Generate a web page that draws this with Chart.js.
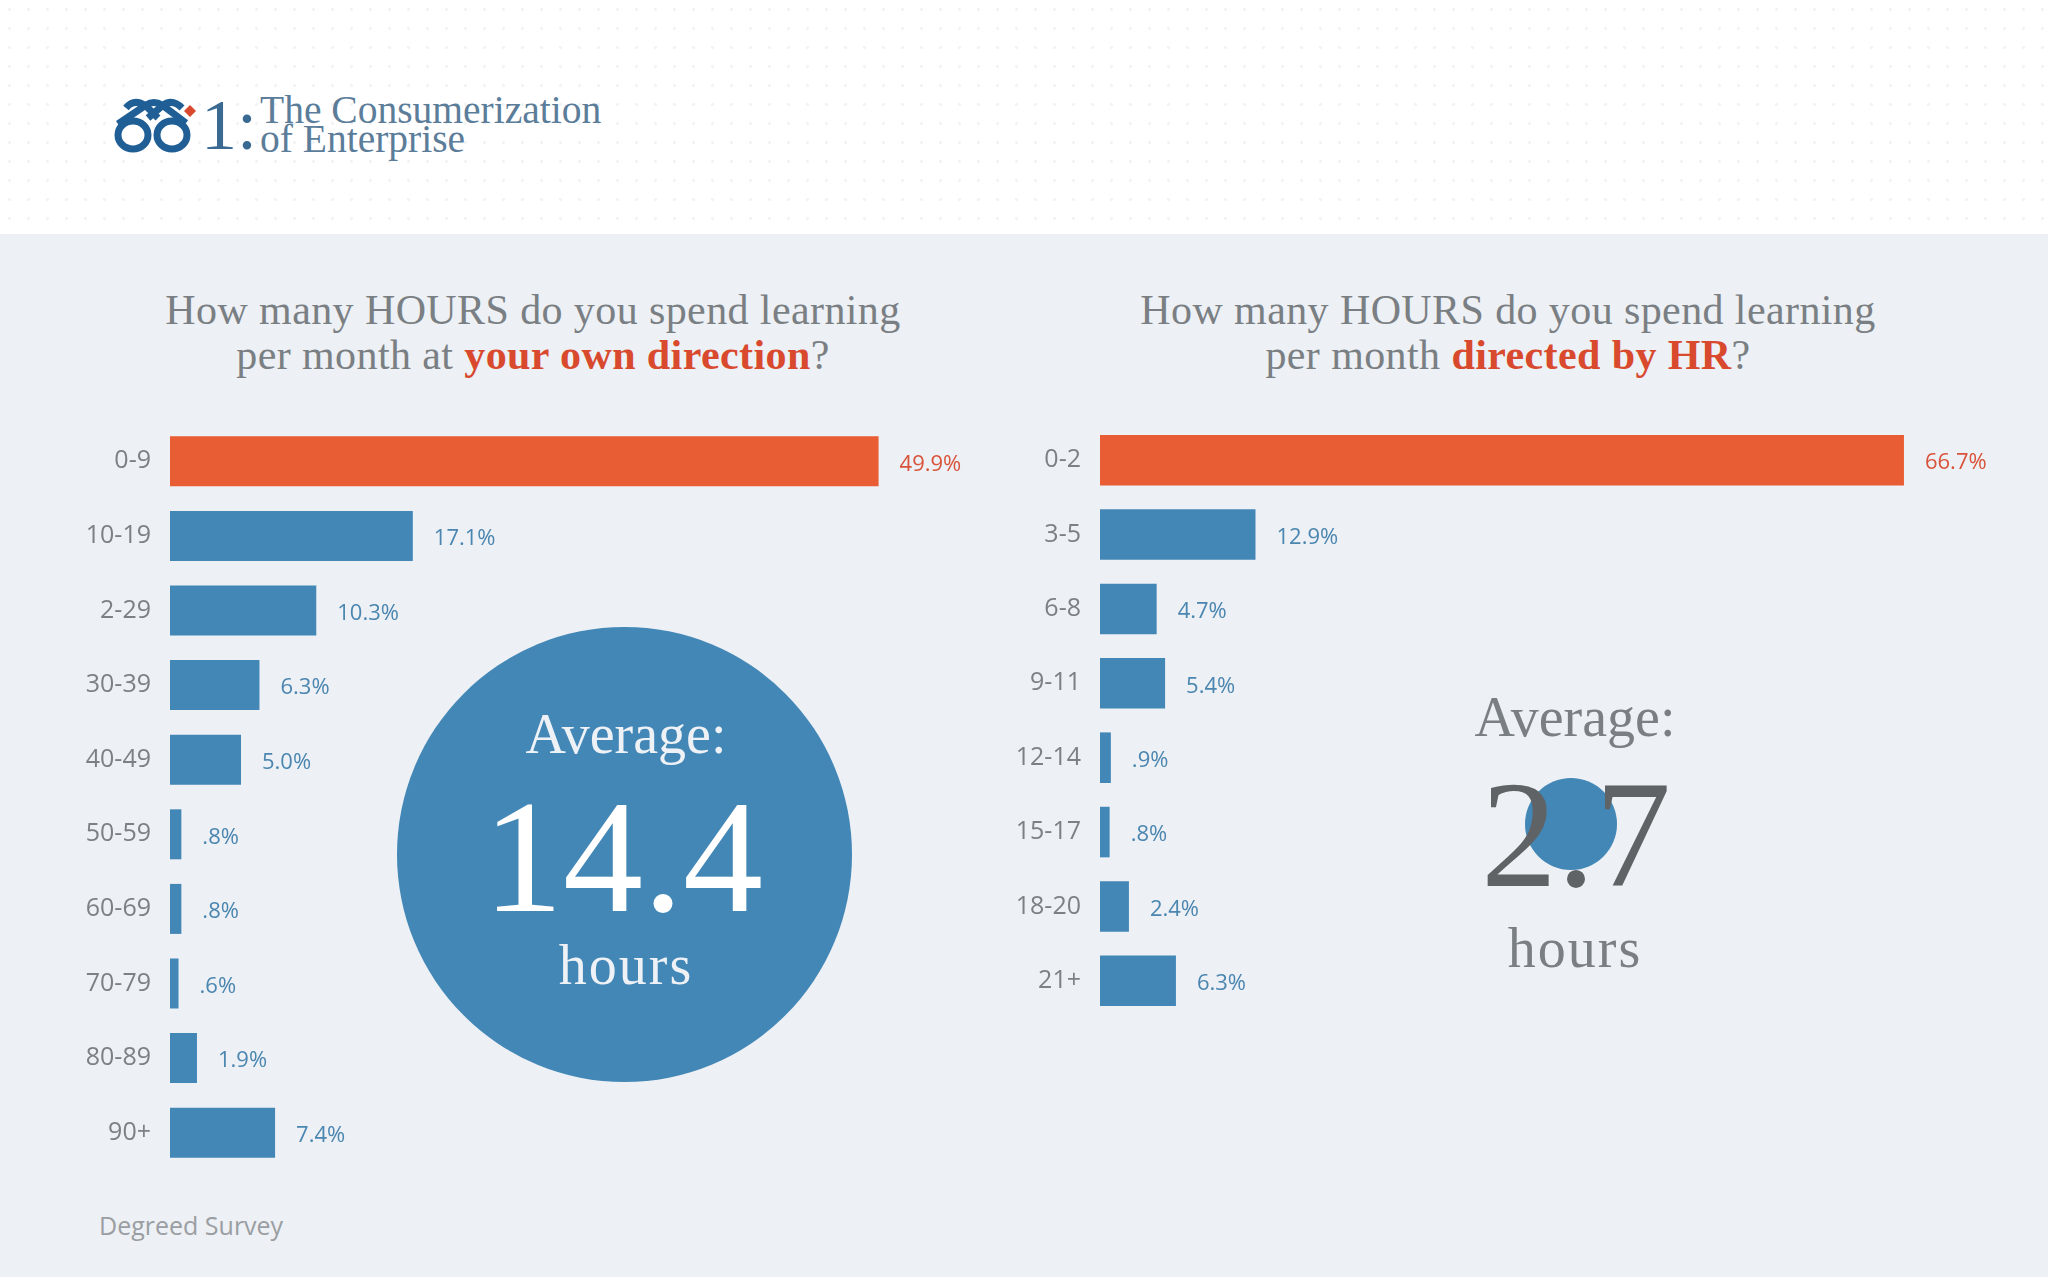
<!DOCTYPE html>
<html><head><meta charset="utf-8">
<script src="https://cdn.jsdelivr.net/npm/chart.js@4"></script>
<style>
html,body{margin:0;padding:0;width:2048px;height:1280px;overflow:hidden;background:#fff;}
#page{position:relative;width:2048px;height:1280px;}
#head{position:absolute;left:0;top:0;width:2048px;height:234px;background-color:#fff;
 background-image:radial-gradient(circle,#f1f3f5 1.3px,transparent 1.6px);background-size:19px 19px;}
#panel{position:absolute;left:0;top:234px;width:2048px;height:1043px;background:#edf0f4;}
.t{position:absolute;white-space:nowrap;font-family:"Liberation Serif",serif;}
.c{transform:translateX(-50%);text-align:center;}
canvas{position:absolute;}
.circle{position:absolute;border-radius:50%;background:#4387b7;}
b{color:#d8492d;}
.q{font-size:42px;line-height:45px;color:#7a7f83;letter-spacing:.4px;top:288px;}
</style></head>
<body><div id="page">
<div id="head"></div><div id="panel"></div>
<svg style="position:absolute;left:112px;top:96px" width="90" height="62" viewBox="0 0 90 62">
 <g fill="none" stroke="#1f5f96" stroke-width="7">
  <ellipse cx="21" cy="39" rx="15" ry="14"/><ellipse cx="60" cy="39" rx="15" ry="14"/>
  <path d="M6 28 L34 9 Q42 4 50 9 L74 27"/><path d="M14 12 Q22 2 34 10 L46 22"/><path d="M36 22 L50 10 Q60 2 70 12"/>
 </g>
 <path d="M78 9 L84 15 L78 21 L72 15Z" fill="#d8492d"/>
</svg>
<div class="t" style="left:201px;top:82px;font-size:72px;color:#3a6a92;line-height:86px">1:</div>
<div class="t" style="left:260px;top:96px;font-size:39.5px;line-height:29px;color:#5b7d99">The Consumerization<br>of Enterprise</div>

<div class="t c q" style="left:533px">How many HOURS do you spend learning<br>per month at <b>your own direction</b>?</div>
<div class="t c q" style="left:1508px">How many HOURS do you spend learning<br>per month <b>directed by HR</b>?</div>

<div class="circle" style="left:397px;top:627px;width:455px;height:455px"></div>
<div class="t c" style="left:626px;top:702px;font-size:56px;color:#eef2f6">Average:</div>
<div class="t c" style="left:623px;top:765px;font-size:160px;color:#fff">14.4</div>
<div class="t c" style="left:626px;top:933px;font-size:56px;letter-spacing:2px;color:#eef2f6">hours</div>

<div class="circle" style="left:1525px;top:778px;width:92px;height:92px"></div>
<div class="t c" style="left:1575px;top:685px;font-size:56px;color:#7a7f83">Average:</div>
<div class="t c" style="left:1576px;top:748px;font-size:152px;color:#5f6366">2.7</div>
<div class="t c" style="left:1575px;top:916px;font-size:56px;letter-spacing:2px;color:#7a7f83">hours</div>

<div class="t" style="left:99px;top:1208px;font-size:25px;color:#9a9ea2;font-family:'Open Sans',sans-serif">Degreed Survey</div>

<canvas id="left" style="left:60px;top:390px"></canvas>
<canvas id="right" style="left:990px;top:389px"></canvas>
</div>
<script>
const ownCategories=["0-9","10-19","2-29","30-39","40-49","50-59","60-69","70-79","80-89","90+"];
const ownValues=[49.9,17.1,10.3,6.3,5.0,0.8,0.8,0.6,1.9,7.4];
const ownLabels=["49.9%","17.1%","10.3%","6.3%","5.0%",".8%",".8%",".6%","1.9%","7.4%"];
const hrCategories=["0-2","3-5","6-8","9-11","12-14","15-17","18-20","21+"];
const hrValues=[66.7,12.9,4.7,5.4,0.9,0.8,2.4,6.3];
const hrLabels=["66.7%","12.9%","4.7%","5.4%",".9%",".8%","2.4%","6.3%"];
const RED="#e85d33",BLUE="#4387b7";
const valueLabels={id:"valueLabels",afterDatasetsDraw(chart,args,opts){
  const ctx=chart.ctx;ctx.save();
  ctx.font='22px "Open Sans",sans-serif';ctx.textAlign="left";ctx.textBaseline="middle";
  chart.getDatasetMeta(0).data.forEach((bar,i)=>{
    ctx.fillStyle=i===0?"#d9533a":"#4a86b0";
    ctx.fillText(opts.labels[i],bar.x+21,bar.y+3);
  });ctx.restore();
}};
function makeChart(id,cats,vals,labs,max,w,h,pct){
  const el=document.getElementById(id);el.width=w;el.height=h;
  new Chart(el,{type:"bar",plugins:[valueLabels],
   data:{labels:cats,datasets:[{data:vals,backgroundColor:vals.map((v,i)=>i===0?RED:BLUE),borderWidth:0,categoryPercentage:1,barPercentage:pct}]},
   options:{indexAxis:"y",responsive:false,animation:false,devicePixelRatio:1,
    layout:{padding:0},
    plugins:{legend:{display:false},tooltip:{enabled:false},title:{display:false},valueLabels:{labels:labs}},
    scales:{
     x:{display:false,min:0,max:max},
     y:{afterFit(s){s.width=110;},grid:{display:false,drawTicks:false},border:{display:false},
        ticks:{padding:19,color:"#7c8084",autoSkip:false,font:{family:"Open Sans",size:25}}}
    }}});
}
makeChart("left",ownCategories,ownValues,ownLabels,60,962,814,0.67);
makeChart("right",hrCategories,hrValues,hrLabels,75,1014,663,0.68);
</script>
</body></html>
